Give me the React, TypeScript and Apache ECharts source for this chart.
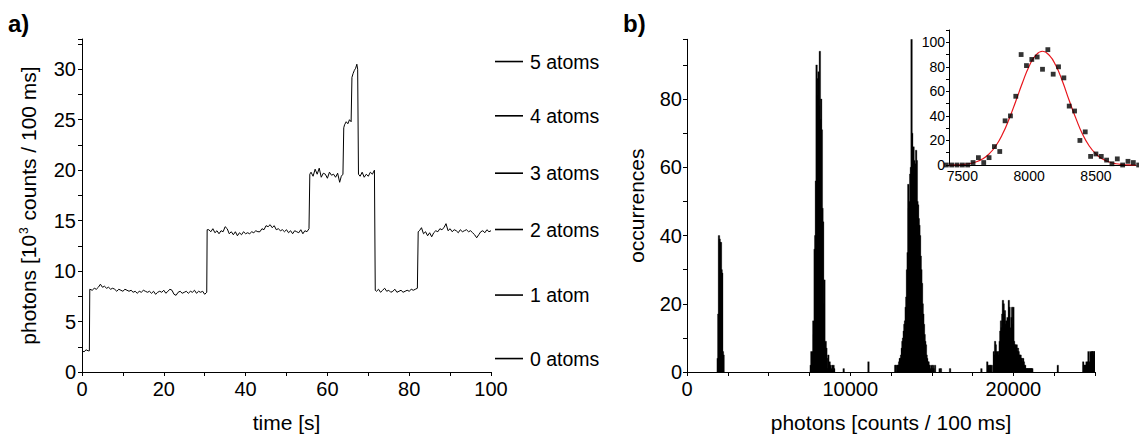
import { useEffect, useRef } from "react";
import * as echarts from "echarts";

const FONT = "'Liberation Sans', Arial, Helvetica, sans-serif";

// ---------- panel a: photon trace ----------
const photonTrace: [number, number][] = [
  [0, 2.1], [0.5, 2.0], [1.0, 2.2], [1.5, 2.1], [1.8, 2.1],
  [1.9, 8.2], [2.5, 8.1], [3, 8.3], [3.5, 8.2], [4, 8.4], [4.5, 8.7], [5, 8.4], [5.5, 8.5], [6, 8.3], [6.5, 8.4],
  [7, 8.2], [7.5, 8.3], [8, 8.2], [8.5, 8.0], [9, 8.2], [9.5, 8.1], [10, 8.0], [10.5, 8.2], [11, 8.1], [11.5, 8.0],
  [12, 8.1], [12.5, 7.9], [13, 8.0], [13.5, 7.8], [14, 8.0], [14.5, 7.9], [15, 8.1], [15.5, 8.0], [16, 7.9], [16.5, 8.0],
  [17, 7.8], [17.5, 8.0], [18, 7.7], [18.5, 7.9], [19, 8.0], [19.5, 7.9], [20, 8.1], [20.5, 7.8], [21, 8.0], [21.5, 8.2],
  [22, 8.1], [22.5, 7.7], [23, 7.6], [23.5, 7.9], [24, 8.0], [24.5, 7.8], [25, 7.9], [25.5, 8.0], [26, 7.8], [26.5, 8.0],
  [27, 7.9], [27.5, 8.1], [28, 7.8], [28.5, 8.0], [29, 7.9], [29.5, 8.0], [30, 7.7], [30.5, 7.9],
  [30.6, 14.1], [31, 14.1], [31.5, 13.9], [32, 14.2], [32.5, 13.8], [33, 14.0], [33.5, 13.7], [34, 14.0], [34.5, 13.9],
  [35, 14.4], [35.5, 14.2], [36, 13.7], [36.5, 13.9], [37, 13.6], [37.5, 13.9], [38, 13.5], [38.5, 13.8], [39, 13.6],
  [39.5, 13.9], [40, 13.7], [40.5, 13.8], [41, 13.7], [41.5, 13.9], [42, 13.8], [42.5, 14.0], [43, 13.9], [43.5, 13.9],
  [44, 14.2], [44.5, 14.1], [45, 14.5], [45.5, 14.4], [46, 14.6], [46.5, 14.3], [47, 14.5], [47.5, 14.1], [48, 14.2],
  [48.5, 14.0], [49, 14.1], [49.5, 13.9], [50, 14.1], [50.5, 13.8], [51, 14.0], [51.5, 13.7], [52, 14.0], [52.5, 13.9],
  [53, 13.8], [53.5, 14.1], [54, 13.7], [54.5, 14.0], [55, 13.9], [55.5, 14.2],
  [55.7, 19.6], [56, 19.8], [56.5, 19.4], [57, 20.1], [57.5, 19.6], [58, 20.2], [58.5, 19.3], [59, 19.7], [59.5, 19.6],
  [60, 19.2], [60.5, 19.8], [61, 19.5], [61.5, 19.6], [62, 19.3], [62.5, 19.7], [63, 18.8], [63.4, 19.4], [63.8, 19.6],
  [64.0, 24.2], [64.2, 24.5], [64.6, 24.8], [65.0, 24.6], [65.4, 25.0], [65.8, 24.8],
  [66.0, 29.2], [66.3, 29.6], [66.6, 29.9], [66.9, 30.1], [67.2, 30.5], [67.4, 30.0],
  [67.6, 19.6], [68, 19.4], [68.5, 19.8], [69, 19.3], [69.5, 19.6], [70, 19.4], [70.5, 19.8], [71, 19.6], [71.5, 20.0],
  [71.7, 8.1], [72, 8.0], [72.5, 8.2], [73, 7.9], [73.5, 8.1], [74, 8.3], [74.5, 8.0], [75, 8.1], [75.5, 7.9], [76, 8.0],
  [76.5, 8.2], [77, 7.9], [77.5, 8.0], [78, 8.1], [78.5, 7.9], [79, 8.0], [79.5, 8.1], [80, 8.0], [80.5, 8.2], [81, 8.1],
  [81.5, 8.2], [82, 8.3],
  [82.2, 13.9], [82.5, 14.0], [83, 14.3], [83.5, 13.7], [84, 13.9], [84.5, 13.5], [85, 13.8], [85.5, 13.4], [86, 13.8],
  [86.5, 14.0], [87, 13.9], [87.5, 14.2], [88, 14.1], [88.5, 14.3], [89, 14.7], [89.5, 14.0], [90, 14.2], [90.5, 13.9],
  [91, 14.1], [91.5, 14.0], [92, 13.8], [92.5, 14.1], [93, 13.9], [93.5, 14.0], [94, 14.1], [94.5, 13.9], [95, 14.0],
  [95.5, 13.8], [96, 13.6], [96.5, 13.3], [97, 13.6], [97.5, 13.9], [98, 14.0], [98.5, 13.8], [99, 14.1], [99.5, 13.9],
  [100, 14.0],
];
const atomLevels = [1.8, 8.0, 14.4, 19.9, 25.5, 30.8];
const atomLabels = ["0 atoms", "1 atom", "2 atoms", "3 atoms", "4 atoms", "5 atoms"];
// axis ticks: [tick step, labelled step]
const timeTicks = [10, 20];
const rateTicks = [2.5, 5];

// ---------- panel b: histogram (bin width 40 counts) ----------
const binWidth = 40;
const zeroAtomStart = 1880;
const zeroAtomCounts = [4, 17, 40, 39, 38, 38, 30, 29, 6, 5];
const oneAtomStart = 7380;
const oneAtomCounts = [0, 0, 0, 0, 0, 2, 6, 2, 6, 15, 11, 36, 40, 56, 90, 81, 86, 88, 78, 94, 74, 80, 71, 48, 44, 20, 27, 7, 9, 7, 4, 1, 5, 0, 3, 2, 0];
const oneAtomTailStart = 8860;
const oneAtomTailCounts = [1, 2, 1, 2, 1];
const twoAtomStart = 12760;
const twoAtomCounts = [2, 2, 0, 2, 2, 2, 3, 4, 4, 5, 7, 9, 10, 12, 14, 15, 19, 22, 30, 35, 55, 48, 50, 58, 60, 98, 70, 60, 66, 62, 58, 61, 65, 62, 50, 49, 45, 43, 40, 34, 30, 26, 20, 17, 14, 11, 9, 8, 5, 4, 3, 3, 2, 2, 1, 0, 2, 1, 2, 1, 0, 2];
const threeAtomStart = 18400;
const threeAtomCounts = [3, 0, 2, 1, 2, 2, 0, 2, 0, 0, 6, 5, 9, 8, 6, 5, 6, 5, 6, 9, 12, 15, 13, 17, 21, 20, 17, 18, 14, 15, 12, 16, 15, 21, 19, 13, 10, 16, 19, 14, 19, 9, 8, 8, 7, 8, 6, 7, 6, 5, 5, 5, 4, 4, 3, 4, 3, 2, 2, 1, 1, 1, 1, 1, 1, 1, 1, 1, 1, 1];
const edgeStart = 24280;
const edgeCounts = [3, 2, 2, 2, 2, 3, 2, 3, 6, 3, 2, 6, 3, 6, 6, 6, 5, 6, 6];
const strayBins = [9600, 11120, 15480, 15560, 16120, 18040, 22720];
const strayCounts = [1, 3, 1, 1, 1, 1, 2];
const photonTicks = [2500, 10000];
const occTicks = [10, 20];

// ---------- inset: one-atom peak with Gaussian fit ----------
const fitX = [7400, 7450, 7500, 7550, 7600, 7650, 7700, 7750, 7800, 7850, 7900, 7950, 8000, 8050, 8100, 8150, 8200, 8250, 8300, 8350, 8400, 8450, 8500, 8550, 8600, 8650, 8700, 8750, 8800];
const fitY = [0, 0.1, 0.4, 1, 2.4, 4.8, 9, 15.5, 25, 37.5, 52, 67, 80.5, 89.5, 92.7, 89.5, 81, 68, 52.5, 38, 25, 15.5, 9, 4.8, 2.4, 1, 0.4, 0.1, 0];
const insetXTicks = [100, 500];
const insetYTicks = [10, 20];

function bins(start: number, counts: number[]): [number, number][] {
  return counts.map((c, i) => [start + i * binWidth, c]);
}

function valueAxis(o: {
  grid: number; min: number; max: number; ticks: number[]; fontSize: number; margin: number;
  tickLen: number; showTicks?: boolean; extra?: any;
}) {
  const [step, labelStep] = o.ticks;
  return {
    type: "value", gridIndex: o.grid, min: o.min, max: o.max, interval: step,
    axisLine: { show: true, onZero: false, lineStyle: { color: "#000", width: 1 } },
    axisTick: { show: o.showTicks !== false, inside: false, length: o.tickLen, lineStyle: { color: "#000", width: 1 } },
    axisLabel: {
      color: "#000", fontFamily: FONT, fontSize: o.fontSize, margin: o.margin, hideOverlap: false,
      formatter: (v: number) => (Math.abs(v / labelStep - Math.round(v / labelStep)) < 1e-6 ? String(v) : ""),
    },
    splitLine: { show: false },
    ...(o.extra || {}),
  };
}

export default function App() {
  const ref = useRef<HTMLDivElement>(null);

  useEffect(() => {
    if (!ref.current) return;
    const chart = echarts.init(ref.current, undefined, { renderer: "svg" });

    const histData: [number, number][] = [
      ...bins(zeroAtomStart, zeroAtomCounts),
      ...bins(oneAtomStart, oneAtomCounts),
      ...bins(oneAtomTailStart, oneAtomTailCounts),
      ...bins(twoAtomStart, twoAtomCounts),
      ...bins(threeAtomStart, threeAtomCounts),
      ...bins(edgeStart, edgeCounts),
      ...strayBins.map((b, i) => [b, strayCounts[i]] as [number, number]),
    ];
    const insetPoints = bins(oneAtomStart, oneAtomCounts);

    const titleStyle = { color: "#000", fontFamily: FONT, fontSize: 21 };

    const option: any = {
      animation: false,
      backgroundColor: "#fff",
      textStyle: { fontFamily: FONT },
      grid: [
        { left: 82, top: 39, width: 409, height: 338 },
        { left: 495, top: 39, width: 28, height: 338 },
        { left: 687, top: 39.3, width: 408, height: 337.4 },
        { left: 949, top: 30, width: 187, height: 135 },
      ],
      xAxis: [
        valueAxis({
          grid: 0, min: 0, max: 100, ticks: timeTicks, fontSize: 20, margin: 7, tickLen: 4,
          extra: { name: "time [s]", nameLocation: "middle", nameGap: 40, nameTextStyle: titleStyle },
        }),
        { type: "value", gridIndex: 1, min: 0, max: 1, show: false },
        valueAxis({
          grid: 2, min: 0, max: 25000, ticks: photonTicks, fontSize: 20, margin: 7, tickLen: 4,
          extra: { name: "photons [counts / 100 ms]", nameLocation: "middle", nameGap: 40, nameTextStyle: titleStyle },
        }),
        valueAxis({ grid: 3, min: 7400, max: 8800, ticks: insetXTicks, fontSize: 14, margin: 4, tickLen: 3, showTicks: false }),
      ],
      yAxis: [
        valueAxis({
          grid: 0, min: 0, max: 33, ticks: rateTicks, fontSize: 20, margin: 6, tickLen: 4,
          extra: {
            name: "photons [10{sup|3} counts / 100 ms]", nameLocation: "middle", nameGap: 43,
            nameTextStyle: { ...titleStyle, rich: { sup: { fontSize: 12, fontFamily: FONT, color: "#000", verticalAlign: "top", lineHeight: 12, padding: [0, 1, 10, 1] } } },
          },
        }),
        { type: "value", gridIndex: 1, min: 0, max: 33, show: false },
        valueAxis({
          grid: 2, min: 0, max: 97.5, ticks: occTicks, fontSize: 20, margin: 5, tickLen: 4,
          extra: { name: "occurrences", nameLocation: "middle", nameGap: 40, nameTextStyle: titleStyle },
        }),
        valueAxis({ grid: 3, min: 0, max: 110, ticks: insetYTicks, fontSize: 14, margin: 4, tickLen: 3 }),
      ],
      graphic: [
        { type: "text", left: 8, top: 11, style: { text: "a)", fill: "#000", font: `bold 24px ${FONT}` } },
        { type: "text", left: 623, top: 11, style: { text: "b)", fill: "#000", font: `bold 24px ${FONT}` } },
      ],
      series: [
        {
          type: "line", xAxisIndex: 0, yAxisIndex: 0, data: photonTrace,
          showSymbol: false, symbol: "none", lineStyle: { color: "#000", width: 1 }, clip: true,
        },
        {
          type: "custom", xAxisIndex: 1, yAxisIndex: 1,
          data: atomLevels.map((v) => [0, v]),
          renderItem: (params: any, api: any) => {
            const y = api.value(1);
            const p0 = api.coord([0, y]);
            const p1 = api.coord([1, y]);
            return {
              type: "group",
              children: [
                { type: "line", shape: { x1: p0[0], y1: p0[1], x2: p1[0], y2: p1[1] }, style: { stroke: "#000", lineWidth: 1.6 } },
                {
                  type: "text", x: p1[0] + 7, y: p0[1],
                  style: { text: atomLabels[params.dataIndex], fill: "#000", fontSize: 19.5, fontFamily: FONT, align: "left", verticalAlign: "middle" },
                },
              ],
            };
          },
        },
        {
          type: "custom", xAxisIndex: 2, yAxisIndex: 2, data: histData, clip: true,
          renderItem: (_params: any, api: any) => {
            const x = api.value(0);
            const c = api.value(1);
            if (!c) return null;
            const a = api.coord([x - binWidth / 2, c]);
            const b = api.coord([x + binWidth / 2, 0]);
            return {
              type: "rect",
              shape: { x: a[0] - 0.45, y: a[1], width: b[0] - a[0] + 0.9, height: b[1] - a[1] },
              style: { fill: "#000", stroke: "#000", lineWidth: 0.3 },
            };
          },
        },
        {
          type: "line", xAxisIndex: 3, yAxisIndex: 3, data: fitX.map((x, i) => [x, fitY[i]]),
          smooth: true, showSymbol: false, symbol: "none", lineStyle: { color: "#e8141b", width: 1.2 }, clip: false, z: 3,
        },
        {
          type: "scatter", xAxisIndex: 3, yAxisIndex: 3, data: insetPoints,
          symbol: "rect", symbolSize: 4.8, itemStyle: { color: "#000" }, clip: false, z: 4,
        },
      ],
    };

    chart.setOption(option);
    return () => chart.dispose();
  }, []);

  return <div ref={ref} style={{ position: "absolute", left: 0, top: 0, width: 1139, height: 438 }} />;
}
